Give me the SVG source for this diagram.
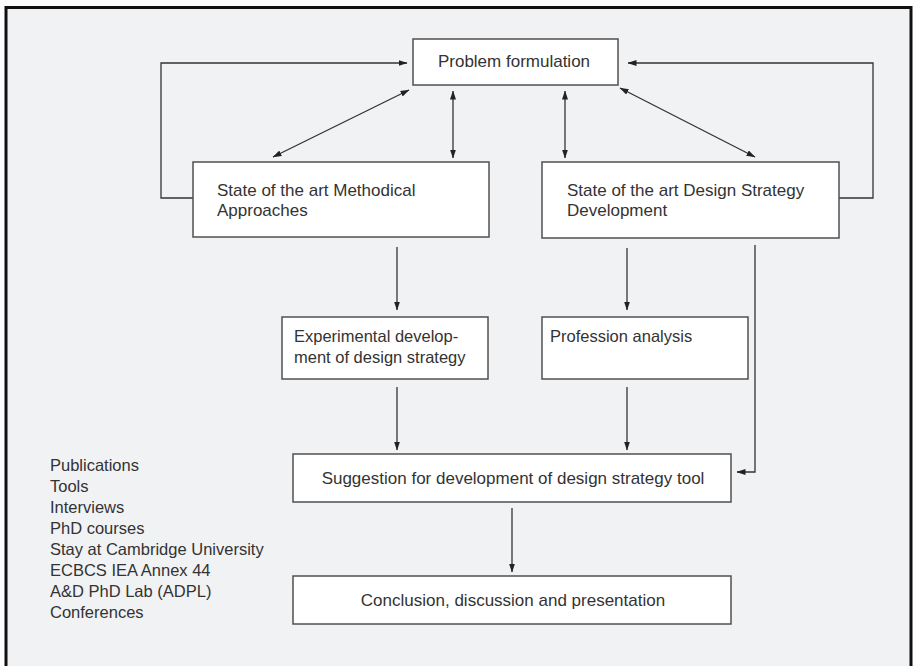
<svg xmlns="http://www.w3.org/2000/svg" width="914" height="666" viewBox="0 0 914 666">
<style>
.box{fill:#ffffff;stroke:#505050;stroke-width:1.5}
.t{font-family:"Liberation Sans",Arial,sans-serif;font-size:16.5px;fill:#333333}
.b{font-size:17px}
.c{text-anchor:middle}
.ln{fill:none;stroke:#333333;stroke-width:1.3}
</style>
<defs>
<marker id="ah" markerWidth="9" markerHeight="6" refX="8.5" refY="3" orient="auto-start-reverse" markerUnits="userSpaceOnUse">
<path d="M0,0 L9,3 L0,6 z" fill="#222222"/>
</marker>
</defs>
<rect x="0" y="0" width="914" height="666" fill="#ffffff"/>
<rect x="6" y="7.5" width="905" height="700" fill="#f1f2f4" stroke="#111111" stroke-width="3"/>

<g id="connectors">
<path class="ln" d="M193,198 H161 V63 H407" marker-end="url(#ah)"/>
<path class="ln" d="M839,198 H873 V63 H628" marker-end="url(#ah)"/>
<line class="ln" x1="273" y1="157" x2="409" y2="90" marker-start="url(#ah)" marker-end="url(#ah)"/>
<line class="ln" x1="453" y1="158" x2="453" y2="91" marker-start="url(#ah)" marker-end="url(#ah)"/>
<line class="ln" x1="565" y1="158" x2="565" y2="91" marker-start="url(#ah)" marker-end="url(#ah)"/>
<line class="ln" x1="755" y1="157" x2="620" y2="88" marker-start="url(#ah)" marker-end="url(#ah)"/>
<line class="ln" x1="397" y1="247" x2="397" y2="310" marker-end="url(#ah)"/>
<line class="ln" x1="627" y1="248" x2="627" y2="310" marker-end="url(#ah)"/>
<line class="ln" x1="397" y1="387" x2="397" y2="450" marker-end="url(#ah)"/>
<line class="ln" x1="627" y1="387" x2="627" y2="450" marker-end="url(#ah)"/>
<path class="ln" d="M755,245 V472 H737" marker-end="url(#ah)"/>
<line class="ln" x1="512" y1="508" x2="512" y2="572" marker-end="url(#ah)"/>
</g>

<g id="problem">
<rect class="box" x="413" y="39" width="205" height="46"/>
<text class="t b c" x="514" y="67">Problem formulation</text>
</g>
<g id="sota-methodical">
<rect class="box" x="193" y="162" width="296" height="75"/>
<text class="t b" x="217" y="196">State of the art Methodical</text>
<text class="t b" x="217" y="216">Approaches</text>
</g>
<g id="sota-design">
<rect class="box" x="542" y="162" width="297" height="76"/>
<text class="t b" x="567" y="196">State of the art Design Strategy</text>
<text class="t b" x="567" y="216">Development</text>
</g>
<g id="experimental">
<rect class="box" x="282" y="317" width="206" height="62"/>
<text class="t" x="294" y="342">Experimental develop-</text>
<text class="t" x="294" y="363">ment of design strategy</text>
</g>
<g id="profession">
<rect class="box" x="542" y="317" width="206" height="62"/>
<text class="t" x="550" y="342">Profession analysis</text>
</g>
<g id="suggestion">
<rect class="box" x="293" y="454" width="438" height="48"/>
<text class="t b c" x="513" y="484">Suggestion for development of design strategy tool</text>
</g>
<g id="conclusion">
<rect class="box" x="293" y="576" width="438" height="48"/>
<text class="t b c" x="513" y="606">Conclusion, discussion and presentation</text>
</g>
<g id="activities">
<text class="t" x="50" y="471">Publications</text>
<text class="t" x="50" y="492">Tools</text>
<text class="t" x="50" y="513">Interviews</text>
<text class="t" x="50" y="534">PhD courses</text>
<text class="t" x="50" y="555">Stay at Cambridge University</text>
<text class="t" x="50" y="576">ECBCS IEA Annex 44</text>
<text class="t" x="50" y="597">A&amp;D PhD Lab (ADPL)</text>
<text class="t" x="50" y="618">Conferences</text>
</g>
</svg>
